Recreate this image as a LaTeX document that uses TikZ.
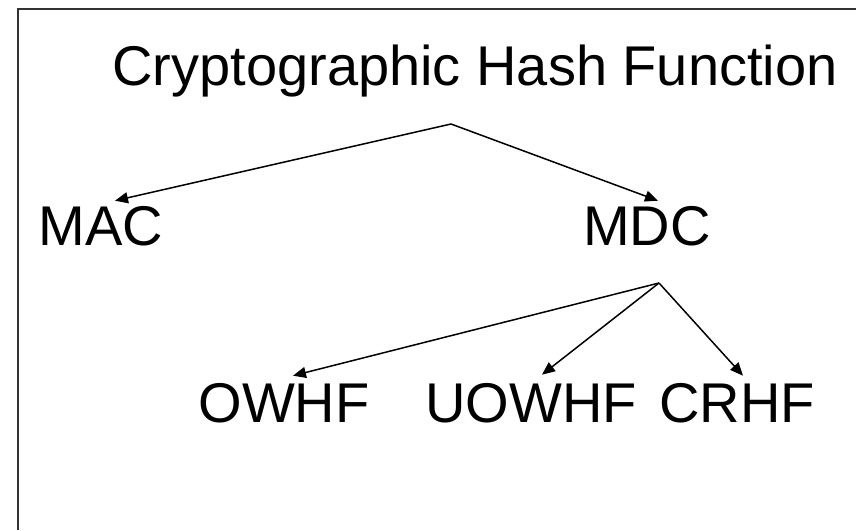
\documentclass[tikz,border=0pt]{standalone}
\usepackage{fontspec}
\setmainfont{Liberation Sans}
\usetikzlibrary{arrows.meta}
\tikzset{
  termtext/.style={font=\fontsize{56}{60}\selectfont, anchor=base, inner sep=0pt},
  branch/.style={line width=1.5pt, -{Triangle[length=13pt,width=11pt]}}
}
\begin{document}
\begin{tikzpicture}[x=1pt,y=-1pt]
\useasboundingbox (0,0) rectangle (856,530);
\draw [line width=1.4pt, draw=black!80] (18,530) -- (18,9) -- (856,9);
\node[termtext] (hash) at (475,85) {Cryptographic Hash Function};
\node[termtext] (mac) at (101,245) {MAC};
\node[termtext] (mdc) at (647,245) {MDC};
\node[termtext] (owhf) at (284,422) {OWHF};
\node[termtext] (uowhf) at (531,422) {UOWHF};
\node[termtext] (crhf) at (737,422) {CRHF};
% split points under the labels
\coordinate (hashsplit) at (451,124);
\coordinate (mdcsplit) at (659,283);
\draw[branch] (hashsplit) -- ([xshift=14pt,yshift=5pt]mac.north);
\draw[branch] (hashsplit) -- ([xshift=11pt,yshift=5pt]mdc.north);
\draw[branch] (mdcsplit) -- ([xshift=9pt,yshift=7pt]owhf.north);
\draw[branch] (mdcsplit) -- ([xshift=11pt,yshift=8pt]uowhf.north);
\draw[branch] (mdcsplit) -- ([xshift=6pt,yshift=7pt]crhf.north);
\end{tikzpicture}
\end{document}
